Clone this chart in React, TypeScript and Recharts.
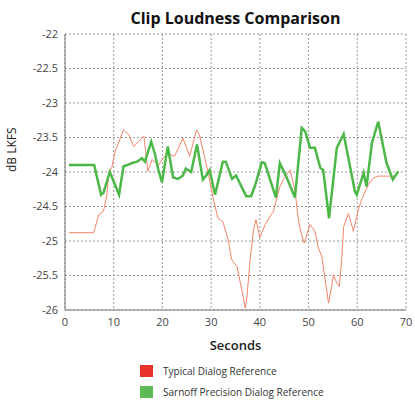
import { LineChart, Line, XAxis, YAxis, CartesianGrid, Legend } from 'recharts'

// seconds / dB LKFS
const typicalSec = [0.8, 5.9, 6.9, 7.9, 8.6, 9, 9.6, 10.3, 12, 13.1, 14.1, 15.8, 16.2, 17, 17.9, 19.2, 20.1, 21, 22.5, 24.2, 25.6, 27, 27.6, 29.4, 30.4, 31.4, 32.4, 33.5, 34.2, 35.3, 36.3, 37, 37.3, 38, 38.7, 39.2, 40, 41.1, 42.1, 42.8, 43.5, 44.1, 44.8, 45.5, 46.2, 47.2, 47.9, 48.3, 49.1, 50.3, 51.3, 52, 52.7, 53.4, 54.1, 54.6, 55.1, 55.8, 56.3, 56.8, 57.2, 58.2, 59.2, 60.2, 60.9, 62.3, 63.3, 64.3, 67.8]
const typicalDb = [-24.88, -24.88, -24.62, -24.57, -24.33, -23.99, -23.94, -23.7, -23.39, -23.46, -23.63, -23.51, -23.48, -23.99, -23.82, -23.9, -23.8, -23.74, -23.77, -23.51, -23.77, -23.39, -23.46, -24.01, -24.38, -24.67, -24.72, -24.98, -25.27, -25.37, -25.71, -25.97, -25.85, -25.27, -24.84, -24.69, -24.95, -24.76, -24.64, -24.57, -24.38, -24.21, -24.11, -24.04, -23.97, -24.26, -24.69, -24.84, -25.03, -24.76, -24.86, -25.1, -25.22, -25.56, -25.9, -25.71, -25.49, -25.61, -25.66, -25.27, -24.79, -24.6, -24.86, -24.55, -24.4, -24.18, -24.09, -24.06, -24.06]

const sarnoffSec = [0.8, 6, 7.4, 7.9, 9.2, 11.1, 12, 12.7, 13.8, 14.8, 15.8, 16.4, 17.7, 18.5, 19.1, 19.9, 21.1, 22.2, 23.2, 24.2, 24.8, 25.9, 27.1, 28.3, 29, 29.7, 30.8, 32.4, 33, 34.3, 35.1, 37.2, 38.2, 39, 40.4, 41, 43.3, 44.1, 45.5, 47.2, 48.6, 49.3, 50.3, 51.3, 52.4, 53, 54.2, 55.8, 57.2, 58.9, 59.5, 59.9, 61.3, 61.9, 63, 64.3, 66, 67.3, 68.4]
const sarnoffDb = [-23.9, -23.9, -24.33, -24.3, -24.0, -24.33, -23.92, -23.9, -23.87, -23.85, -23.8, -23.85, -23.56, -23.75, -23.95, -24.15, -23.63, -24.08, -24.1, -24.05, -23.95, -24.0, -23.6, -24.11, -24.05, -23.97, -24.33, -23.85, -23.85, -24.1, -24.05, -24.35, -24.35, -24.2, -23.86, -23.87, -24.37, -23.87, -24.08, -24.37, -23.36, -23.41, -23.65, -23.65, -23.94, -23.97, -24.67, -23.65, -23.45, -24.06, -24.28, -24.33, -24.01, -24.21, -23.58, -23.27, -23.87, -24.11, -23.99]

const xTicks = [0, 10, 20, 30, 40, 50, 60, 70]
const yTicks = [-26, -25.5, -25, -24.5, -24, -23.5, -23, -22.5, -22]

const seriesNames = ['Typical Dialog Reference', 'Sarnoff Precision Dialog Reference']
const lineColors = ['#f5856a', '#4cb848']
const swatchColors = ['#e8322b', '#5cbb55']

const typicalData = typicalSec.map((t, i) => ({ t, db: typicalDb[i] }))
const sarnoffData = sarnoffSec.map((t, i) => ({ t, db: sarnoffDb[i] }))

const tickStyle = { fontSize: 11, fill: '#444' }

function LegendBox() {
  return (
    <div style={{ fontSize: 10, color: '#333', lineHeight: '12px' }}>
      {seriesNames.map((n, i) => (
        <div key={n} style={{ display: 'flex', alignItems: 'center', marginBottom: 9 }}>
          <span style={{ width: 13, height: 12, background: swatchColors[i], display: 'inline-block', marginRight: 10 }} />
          <span>{n}</span>
        </div>
      ))}
    </div>
  )
}

export default function App() {
  return (
    <div style={{ position: 'absolute', left: 0, top: 0, width: 415, height: 400, background: '#fff', fontFamily: '"Open Sans", sans-serif' }}>
      <div style={{ position: 'absolute', left: 65, width: 341, top: 8, textAlign: 'center', fontSize: 16, fontWeight: 700, color: '#111', lineHeight: '20px' }}>
        Clip Loudness Comparison
      </div>
      <LineChart width={415} height={400} data={typicalData} margin={{ top: 34, right: 9, left: 0, bottom: 40 }}>
        <CartesianGrid stroke="#999" strokeDasharray="2 2" />
        <XAxis
          dataKey="t"
          type="number"
          domain={[0, 70]}
          ticks={xTicks}
          height={50}
          tick={tickStyle}
          tickSize={0}
          tickMargin={8}
          stroke="#777"
          label={{ value: 'Seconds', position: 'insideBottom', offset: 10, fontSize: 13, fontWeight: 600, fill: '#222' }}
        />
        <XAxis xAxisId="top" orientation="top" type="number" domain={[0, 70]} height={0} tick={false} tickLine={false} stroke="#777" />
        <YAxis
          type="number"
          domain={[-26, -22]}
          ticks={yTicks}
          width={65}
          tick={tickStyle}
          tickSize={0}
          tickMargin={7}
          stroke="#777"
          label={{ value: 'dB LKFS', angle: -90, position: 'insideLeft', offset: 12, fontSize: 12, fill: '#222' }}
        />
        <YAxis yAxisId="right" orientation="right" type="number" domain={[-26, -22]} width={0} tick={false} tickLine={false} stroke="#777" />
        <Legend
          layout="horizontal"
          verticalAlign="middle"
          align="center"
          content={<LegendBox />}
          wrapperStyle={{ position: 'absolute', top: 365, left: 140, width: 'auto' }}
        />
        <Line data={typicalData} dataKey="db" name={seriesNames[0]} stroke={lineColors[0]} strokeWidth={1} dot={false} isAnimationActive={false} legendType="square" />
        <Line data={sarnoffData} dataKey="db" name={seriesNames[1]} stroke={lineColors[1]} strokeWidth={2.5} dot={false} isAnimationActive={false} legendType="square" />
      </LineChart>
    </div>
  )
}
